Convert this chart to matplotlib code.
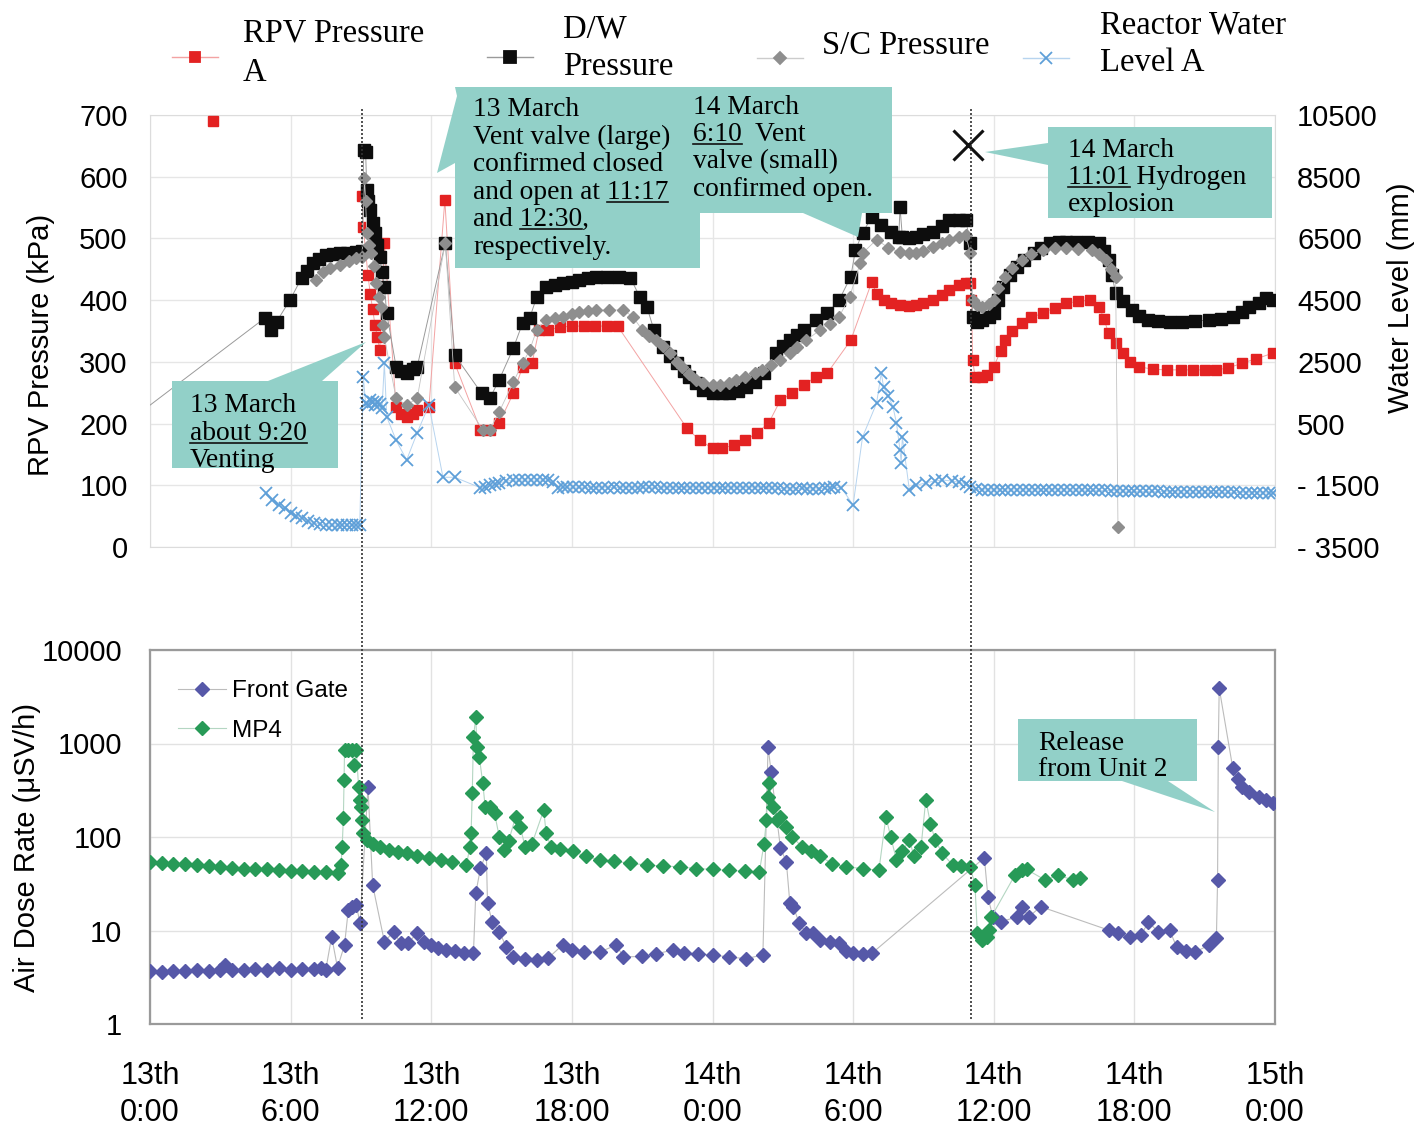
import numpy as np
import matplotlib
matplotlib.use("Agg")
import matplotlib.pyplot as plt
from matplotlib.lines import Line2D
from matplotlib.patches import Polygon
from matplotlib.transforms import blended_transform_factory

W, H = 1416, 1130
SERIF = ["Liberation Serif", "DejaVu Serif"]
SANS = ["Liberation Sans Narrow", "Liberation Sans", "DejaVu Sans"]
TEAL = "#92d0c8"

# hours after 13 March 0:00
VENT_HOUR = 9.05
EXPLOSION_HOUR = 35.02

# (hour, kPa)
rpv_pressure = [
    (2.7, 690), (5.0, np.nan),
    (9.05, 569), (9.1, 519), (9.2, 480), (9.3, 440), (9.4, 410), (9.5, 385),
    (9.6, 360), (9.7, 340), (9.8, 319), (10.0, 493), (10.5, 227), (10.7, 215),
    (10.95, 211), (11.2, 215), (11.4, 222), (11.9, 227), (12.58, 562), (13.0, 298),
    (14.1, 190), (14.5, 190), (14.9, 201), (15.5, 249), (15.9, 292), (16.3, 298),
    (16.6, 352), (17.0, 352), (17.5, 356), (18.0, 358), (18.5, 358), (19.0, 358),
    (19.5, 358), (19.95, 358), (22.9, 193), (23.45, 173), (24.0, 160), (24.4, 160),
    (24.9, 165), (25.4, 173), (25.9, 185), (26.4, 201), (26.9, 238), (27.4, 249),
    (27.9, 262), (28.4, 276), (28.9, 282), (29.9, 335), (30.8, 430), (31.0, 410),
    (31.3, 400), (31.6, 395), (32.0, 392), (32.4, 390), (32.7, 392), (33.0, 395),
    (33.4, 400), (33.8, 408), (34.1, 417), (34.5, 424), (34.8, 428), (35.0, 428),
    (35.05, 400), (35.1, 303), (35.2, 276), (35.5, 276), (35.7, 278), (36.0, 292),
    (36.3, 318), (36.5, 335), (36.8, 350), (37.2, 363), (37.6, 372), (38.1, 379),
    (38.6, 388), (39.1, 395), (39.6, 398), (40.1, 400), (40.5, 389), (40.7, 370),
    (40.9, 346), (41.2, 330), (41.5, 314), (41.8, 300), (42.2, 292), (42.8, 288),
    (43.4, 287), (44.0, 287), (44.5, 287), (45.0, 287), (45.5, 287), (46.0, 290),
    (46.6, 298), (47.2, 305), (47.9, 314),
]

dw_pressure = [
    (-1.0, 201), (4.9, 371), (5.15, 352), (5.4, 365), (5.97, 400), (6.47, 436),
    (6.7, 448), (6.97, 460), (7.2, 466), (7.5, 473), (7.8, 475), (8.1, 476),
    (8.4, 477), (8.8, 478), (9.05, 480), (9.12, 643), (9.2, 640), (9.25, 579),
    (9.3, 560), (9.4, 546), (9.5, 525), (9.6, 509), (9.7, 490), (9.8, 470),
    (9.9, 445), (10.0, 421), (10.1, 379), (10.5, 292), (10.7, 285), (10.95, 282),
    (11.2, 288), (11.4, 292), (12.6, 493), (13.0, 311), (14.15, 249), (14.5, 241),
    (14.9, 271), (15.5, 322), (15.9, 363), (16.2, 371), (16.5, 405), (16.9, 421),
    (17.3, 425), (17.6, 428), (18.0, 430), (18.3, 433), (18.7, 436), (19.05, 438),
    (19.5, 438), (20.0, 438), (20.5, 436), (20.9, 405), (21.2, 389), (21.5, 352),
    (21.9, 324), (22.2, 310), (22.5, 298), (22.8, 285), (23.0, 276), (23.3, 265),
    (23.6, 254), (24.0, 249), (24.4, 249), (24.7, 249), (25.1, 253), (25.45, 259),
    (25.8, 268), (26.2, 282), (26.7, 314), (27.0, 325), (27.3, 335), (27.6, 344),
    (27.9, 352), (28.4, 368), (28.9, 379), (29.4, 400), (29.9, 438), (30.1, 481),
    (30.4, 509), (30.8, 535), (31.2, 522), (31.6, 510), (31.95, 503), (32.0, 551),
    (32.1, 503), (32.4, 500), (32.7, 503), (33.0, 507), (33.4, 511), (33.8, 520),
    (34.1, 530), (34.5, 530), (34.8, 530), (35.0, 493), (35.1, 373), (35.3, 365),
    (35.5, 368), (35.8, 372), (36.0, 379), (36.2, 400), (36.4, 421), (36.7, 440),
    (37.0, 454), (37.3, 465), (37.7, 476), (38.0, 485), (38.4, 493), (38.8, 494),
    (39.1, 494), (39.5, 494), (40.0, 494), (40.5, 493), (40.7, 480), (40.9, 465),
    (41.05, 440), (41.2, 411), (41.5, 398), (41.9, 384), (42.2, 375), (42.6, 368),
    (43.0, 366), (43.5, 365), (44.05, 365), (44.6, 366), (45.2, 368), (45.7, 370),
    (46.2, 373), (46.6, 380), (46.9, 389), (47.3, 395), (47.6, 403), (47.9, 400),
]

sc_pressure = [
    (7.1, 433), (7.4, 445), (7.7, 452), (8.1, 457), (8.5, 463), (8.8, 468),
    (9.05, 470), (9.15, 598), (9.2, 560), (9.25, 509), (9.35, 490), (9.45, 476),
    (9.55, 455), (9.65, 428), (9.75, 405), (9.85, 389), (9.95, 360), (10.0, 340),
    (10.5, 241), (10.95, 230), (11.4, 241), (12.6, 493), (13.0, 259), (14.2, 190),
    (14.5, 190), (14.9, 219), (15.5, 267), (15.9, 298), (16.2, 319), (16.5, 352),
    (16.9, 368), (17.3, 371), (17.6, 373), (18.0, 377), (18.3, 381), (18.7, 383),
    (19.05, 384), (19.6, 384), (20.2, 384), (20.6, 373), (21.0, 352), (21.3, 342),
    (21.6, 335), (21.9, 325), (22.2, 314), (22.5, 300), (22.7, 292), (23.0, 281),
    (23.3, 271), (23.6, 265), (24.0, 262), (24.3, 263), (24.7, 265), (25.0, 270),
    (25.4, 276), (25.8, 282), (26.1, 287), (26.5, 295), (26.9, 303), (27.3, 315),
    (27.6, 324), (28.0, 335), (28.6, 352), (29.0, 362), (29.4, 373), (29.85, 405),
    (30.3, 460), (30.4, 476), (31.0, 498), (31.5, 485), (32.0, 478), (32.4, 476),
    (32.7, 476), (33.0, 480), (33.4, 486), (33.8, 492), (34.1, 498), (34.5, 503),
    (34.8, 506), (35.0, 476), (35.1, 400), (35.3, 392), (35.5, 389), (35.8, 394),
    (36.0, 400), (36.2, 420), (36.5, 438), (36.8, 452), (37.2, 465), (37.6, 474),
    (38.1, 481), (38.6, 484), (39.1, 484), (39.6, 483), (40.2, 481), (40.5, 475),
    (40.8, 465), (41.0, 450), (41.2, 438), (41.3, 32),
]

# (hour, mm)
water_level = [
    (4.97, -1750), (5.2, -1980), (5.5, -2140), (5.75, -2250), (6.0, -2400),
    (6.25, -2480), (6.5, -2560), (6.75, -2650), (7.0, -2720), (7.25, -2760),
    (7.5, -2790), (7.75, -2790), (8.0, -2790), (8.2, -2790), (8.4, -2790),
    (8.6, -2790), (8.8, -2790), (8.95, -2790), (9.1, 2020), (9.2, 1160),
    (9.3, 1100), (9.4, 1250), (9.5, 1200), (9.6, 1100), (9.7, 1200), (9.8, 1150),
    (9.9, 1000), (10.0, 2460), (10.1, 720), (10.5, -40), (10.95, -680), (11.4, 200),
    (11.9, 1100), (12.5, -1240), (13.0, -1240), (14.1, -1580), (14.3, -1560),
    (14.5, -1500), (14.7, -1460), (14.9, -1420), (15.2, -1370), (15.5, -1330),
    (15.75, -1330), (16.0, -1330), (16.25, -1330), (16.5, -1330), (16.75, -1330),
    (17.0, -1330), (17.2, -1400), (17.4, -1580), (17.6, -1570), (17.8, -1560),
    (18.05, -1560), (18.3, -1560), (18.55, -1570), (18.8, -1580), (19.05, -1580),
    (19.3, -1580), (19.55, -1575), (19.8, -1570), (20.05, -1575), (20.3, -1580),
    (20.55, -1580), (20.8, -1580), (21.05, -1570), (21.3, -1560), (21.55, -1570),
    (21.8, -1580), (22.05, -1580), (22.3, -1580), (22.55, -1580), (22.8, -1580),
    (23.05, -1580), (23.3, -1580), (23.55, -1580), (23.8, -1580), (24.05, -1580),
    (24.3, -1580), (24.55, -1580), (24.8, -1580), (25.05, -1580), (25.3, -1580),
    (25.55, -1580), (25.8, -1580), (26.05, -1580), (26.3, -1580), (26.55, -1590),
    (26.8, -1600), (27.05, -1610), (27.3, -1620), (27.55, -1610), (27.8, -1600),
    (28.05, -1610), (28.3, -1620), (28.55, -1610), (28.8, -1600), (29.0, -1580),
    (29.2, -1560), (29.5, -1580), (30.0, -2140), (30.4, 60), (31.0, 1160),
    (31.2, 2140), (31.3, 1680), (31.5, 1400), (31.7, 1040), (31.85, 520),
    (32.0, -360), (32.05, -780), (32.1, 60), (32.4, -1650), (32.7, -1500),
    (33.1, -1420), (33.5, -1360), (33.8, -1330), (34.2, -1360), (34.5, -1400),
    (34.8, -1450), (35.0, -1560), (35.25, -1620), (35.5, -1650), (35.75, -1650),
    (36.0, -1650), (36.25, -1650), (36.5, -1650), (36.75, -1650), (37.0, -1650),
    (37.25, -1650), (37.5, -1650), (37.75, -1650), (38.0, -1650), (38.25, -1650),
    (38.5, -1650), (38.75, -1650), (39.0, -1650), (39.25, -1652), (39.5, -1655),
    (39.75, -1658), (40.0, -1660), (40.25, -1662), (40.5, -1665), (40.75, -1668),
    (41.0, -1670), (41.25, -1680), (41.5, -1690), (41.75, -1695), (42.0, -1700),
    (42.25, -1700), (42.5, -1700), (42.75, -1700), (43.0, -1700), (43.25, -1705),
    (43.5, -1710), (43.75, -1715), (44.0, -1720), (44.25, -1720), (44.5, -1720),
    (44.75, -1720), (45.0, -1720), (45.25, -1722), (45.5, -1725), (45.75, -1728),
    (46.0, -1730), (46.25, -1732), (46.5, -1735), (46.75, -1738), (47.0, -1740),
    (47.25, -1742), (47.5, -1745), (47.75, -1748), (47.9, -1750),
]

# (hour, uSv/h)
front_gate = [
    (0.0, 3.7), (0.5, 3.6), (1.0, 3.7), (1.5, 3.7), (2.0, 3.8), (2.5, 3.7),
    (3.0, 3.8), (3.2, 4.3), (3.5, 3.8), (4.0, 3.8), (4.5, 3.9), (5.0, 3.8),
    (5.5, 4.0), (6.0, 3.8), (6.5, 3.9), (7.0, 3.9), (7.3, 4.0), (7.5, 3.8),
    (7.75, 8.6), (8.0, 4.0), (8.3, 7.0), (8.46, 16.6), (8.6, 18.0), (8.8, 18.8),
    (8.96, 12.0), (9.3, 345), (9.5, 30.7), (10.0, 7.6), (10.4, 9.7), (10.7, 7.3),
    (11.0, 7.3), (11.4, 9.4), (11.7, 7.5), (12.0, 7.0), (12.3, 6.5), (12.65, 6.2),
    (13.0, 6.0), (13.4, 5.8), (13.8, 5.7), (13.9, 25), (14.1, 46.5), (14.35, 67),
    (14.4, 19.7), (14.6, 12.4), (14.9, 9.7), (15.2, 6.7), (15.5, 5.25), (16.0, 4.9),
    (16.5, 4.8), (17.0, 5.1), (17.6, 7.0), (18.0, 6.2), (18.5, 5.9), (19.2, 5.9),
    (19.9, 7.0), (20.2, 5.2), (21.0, 5.3), (21.6, 5.6), (22.3, 6.2), (22.8, 5.8),
    (23.4, 5.6), (24.0, 5.5), (24.7, 5.2), (25.45, 5.0), (26.15, 5.5), (26.37, 925),
    (26.5, 500), (26.9, 76), (27.15, 54.5), (27.3, 19.7), (27.45, 17.9), (27.7, 12.0),
    (28.0, 9.4), (28.3, 9.4), (28.6, 7.9), (29.0, 7.6), (29.4, 7.3), (29.7, 6.0),
    (30.0, 5.7), (30.4, 5.6), (30.8, 5.7), (35.6, 60), (35.75, 23), (35.96, 14),
    (36.3, 12.4), (37.0, 14), (37.2, 18), (37.5, 14), (38.0, 18), (40.9, 10.1),
    (41.3, 9.4), (41.8, 8.5), (42.3, 9.0), (42.6, 12.4), (43.0, 9.7), (43.5, 10.1),
    (43.8, 6.7), (44.2, 6.0), (44.6, 5.9), (45.2, 7.0), (45.5, 8.3), (45.55, 35),
    (45.58, 925), (45.62, 3900), (46.2, 543), (46.4, 420), (46.6, 345), (46.9, 300),
    (47.3, 270), (47.6, 250), (47.9, 230),
]

mp4 = [
    (0.0, 54.5), (0.5, 53), (1.0, 52), (1.5, 51), (2.0, 50), (2.5, 49), (3.0, 48),
    (3.5, 47), (4.0, 46), (4.5, 45.5), (5.0, 45), (5.5, 44), (6.0, 43.5), (6.5, 43),
    (7.0, 42.5), (7.5, 42), (8.0, 41), (8.15, 50), (8.2, 79), (8.25, 158), (8.28, 407),
    (8.3, 850), (8.45, 860), (8.6, 850), (8.7, 590), (8.8, 850), (8.9, 345),
    (8.95, 250), (9.0, 210), (9.05, 152), (9.1, 110), (9.25, 93), (9.5, 85),
    (9.8, 79), (10.2, 73), (10.6, 69), (10.95, 67), (11.4, 63), (11.9, 60),
    (12.4, 57), (12.9, 54), (13.5, 50), (13.65, 79), (13.7, 110), (13.75, 295),
    (13.8, 1170), (13.9, 1900), (13.95, 925), (14.05, 720), (14.2, 375), (14.3, 210),
    (14.5, 210), (14.7, 180), (14.9, 101), (15.1, 72), (15.3, 90), (15.6, 165),
    (15.8, 129), (16.0, 79), (16.3, 85), (16.8, 194), (16.9, 110), (17.1, 79),
    (17.5, 75), (18.05, 70), (18.6, 62), (19.2, 57), (19.8, 55), (20.5, 52.5),
    (21.2, 50), (21.9, 49), (22.6, 48), (23.3, 46), (24.0, 45), (24.7, 44),
    (25.4, 43), (26.0, 42.5), (26.2, 85), (26.3, 152), (26.35, 270), (26.4, 375),
    (26.6, 210), (26.75, 152), (26.9, 165), (27.15, 129), (27.4, 101), (27.8, 79),
    (28.2, 70), (28.6, 62), (29.1, 52), (29.7, 48), (30.4, 46), (31.1, 44),
    (31.4, 165), (31.6, 101), (31.85, 57), (32.1, 70), (32.4, 93), (32.6, 62),
    (32.9, 79), (33.1, 250), (33.3, 139), (33.5, 93), (33.8, 67), (34.25, 50),
    (34.6, 49), (35.0, 48), (35.2, 30.6), (35.3, 9.4), (35.5, 7.9), (35.7, 8.5),
    (35.8, 10.1), (35.9, 14), (36.9, 39), (37.2, 44), (37.4, 45), (38.2, 34.6),
    (38.75, 39), (39.4, 34.6), (39.7, 36.5),
]

x_ticks = [0, 6, 12, 18, 24, 30, 36, 42, 48]
x_tick_labels = ["13th\n0:00", "13th\n6:00", "13th\n12:00", "13th\n18:00", "14th\n0:00",
                 "14th\n6:00", "14th\n12:00", "14th\n18:00", "15th\n0:00"]
kpa_ticks = [0, 100, 200, 300, 400, 500, 600, 700]
wl_ticks = [-3500, -1500, 500, 2500, 4500, 6500, 8500, 10500]
wl_tick_labels = ["- 3500", "- 1500", "500", "2500", "4500", "6500", "8500", "10500"]
dose_ticks = [1, 10, 100, 1000, 10000]


def unzip(pairs):
    return [p[0] for p in pairs], [p[1] for p in pairs]


def fx(x):
    return x / W


def fy(y):
    return 1 - y / H


plt.rcParams["font.family"] = SANS

fig = plt.figure(figsize=(W / 100, H / 100), dpi=100)
fig.patch.set_facecolor("white")

# ---- top panel: pressures and water level ----
ax1 = fig.add_axes([fx(150), fy(547), 1125 / W, 432 / H])
ax1.set_xlim(0, 48)
ax1.set_ylim(0, 700)
ax1.set_yticks(kpa_ticks)
ax1.set_xticks(x_ticks)
ax1.set_xticklabels([])
ax1.tick_params(axis="both", length=0, labelsize=21, pad=16)
ax1.grid(True, color="#e6e6e6", lw=1)
for s in ax1.spines.values():
    s.set_color("#dcdcdc")

h, v = unzip(rpv_pressure)
ax1.plot(h, v, color="#f3a3a3", lw=0.7, marker="s", ms=7.5, mfc="#e32222", mec="#e32222", zorder=3)
h, v = unzip(dw_pressure)
ax1.plot(h, v, color="#9a9a9a", lw=0.7, marker="s", ms=8.5, mfc="#0d0d0d", mec="#0d0d0d", zorder=4)
h, v = unzip(sc_pressure)
ax1.plot(h, v, color="#c4c4c4", lw=0.6, marker="D", ms=6.5, mfc="#8e8e8e", mec="#8e8e8e", zorder=5)
ax1.plot([EXPLOSION_HOUR - 0.14], [651], ls="none", marker="x", ms=22, mew=2.2, color="#111111", zorder=6)

ax1r = ax1.twinx()
ax1r.set_ylim(-3500, 10500)
ax1r.set_yticks(wl_ticks)
ax1r.set_yticklabels(wl_tick_labels)
ax1r.tick_params(axis="y", length=0, labelsize=21, pad=16)
for s in ax1r.spines.values():
    s.set_visible(False)
h, v = unzip(water_level)
ax1r.plot(h, v, color="#b7d4ef", lw=0.7, marker="x", ms=8, mew=1.3, mec="#5e9fd8", ls="-", zorder=3)

# ---- bottom panel: air dose rate ----
ax2 = fig.add_axes([fx(150), fy(1024), 1125 / W, 374 / H])
ax2.set_yscale("log")
ax2.set_xlim(0, 48)
ax2.set_ylim(1, 10000)
ax2.set_yticks(dose_ticks)
ax2.set_yticklabels([str(t) for t in dose_ticks])
ax2.yaxis.set_minor_locator(matplotlib.ticker.NullLocator())
ax2.set_xticks(x_ticks)
ax2.set_xticklabels(x_tick_labels)
ax2.tick_params(axis="y", length=0, labelsize=21, pad=20)
ax2.tick_params(axis="x", length=0, labelsize=22, pad=27)
for lbl in ax2.get_xticklabels():
    lbl.set_linespacing(1.3)
ax2.grid(True, color="#e2e2e2", lw=1)
for s in ax2.spines.values():
    s.set_color("#9a9a9a")
    s.set_linewidth(1.6)

h, v = unzip(front_gate)
ax2.plot(h, v, color="#bcbcbc", lw=0.8, marker="D", ms=7, mfc="#5658a8", mec="#5658a8", label="Front Gate", zorder=3)
h, v = unzip(mp4)
ax2.plot(h, v, color="#b4d6c2", lw=0.8, marker="D", ms=7, mfc="#279a57", mec="#279a57", label="MP4", zorder=4)
ax2.legend(loc="upper left", bbox_to_anchor=(0.016, 0.945), frameon=False, fontsize=17.5,
           handlelength=2.0, handletextpad=0.25, labelspacing=0.72, borderaxespad=0)

# ---- vertical dotted event lines across both panels ----
blend = blended_transform_factory(ax2.transData, fig.transFigure)
for hr in (VENT_HOUR, EXPLOSION_HOUR):
    fig.add_artist(Line2D([hr, hr], [fy(109), fy(1020)], transform=blend, color="#333333",
                          lw=1.2, ls=(0, (1.2, 1.2)), zorder=7))

# ---- axis titles ----
fig.text(fx(41), fy(345), "RPV Pressure (kPa)", rotation=90, ha="center", va="center", fontsize=21)
fig.text(fx(1401), fy(298), "Water Level (mm)", rotation=90, ha="center", va="center", fontsize=21)
fig.text(fx(27), fy(848), "Air Dose Rate (μSV/h)", rotation=90, ha="center", va="center", fontsize=21)

# ---- top legend ----
legend_entries = [
    (195, 57, "s", 7.5, "#e32222", "#f3a3a3", 243, [(41, "RPV Pressure"), (81, "A")]),
    (510, 57, "s", 8.5, "#0d0d0d", "#9a9a9a", 563, [(37, "D/W"), (75, "Pressure")]),
    (780, 58, "D", 6.5, "#8e8e8e", "#cccccc", 822, [(54, "S/C Pressure")]),
    (1046, 58, "x", 8, "#5e9fd8", "#b7d4ef", 1100, [(34, "Reactor Water"), (71, "Level A")]),
]
for mx, my, mk, ms, mc, lc, tx, lines in legend_entries:
    fig.add_artist(Line2D([fx(mx - 23), fx(mx + 23)], [fy(my), fy(my)], transform=fig.transFigure,
                          color=lc, lw=1))
    fig.add_artist(Line2D([fx(mx)], [fy(my)], transform=fig.transFigure, ls="none", marker=mk,
                          ms=ms, mfc=mc, mec=mc, mew=1.3))
    for ty, txt in lines:
        fig.text(fx(tx), fy(ty), txt, fontsize=23.5, family=SERIF, va="baseline", ha="left")

# ---- callout boxes ----
renderer = fig.canvas.get_renderer()


def text_width(s, size):
    t = fig.text(0, 0, s, fontsize=size, family=SERIF)
    w = t.get_window_extent(renderer).width
    t.remove()
    return w


def callout(points, x0, y0, step, lines, size=19.8):
    fig.add_artist(Polygon([(fx(x), fy(y)) for x, y in points], closed=True,
                           transform=fig.transFigure, facecolor=TEAL, edgecolor="none", zorder=8))
    for i, (line, ul) in enumerate(lines):
        yb = y0 + i * step
        fig.text(fx(x0), fy(yb), line, fontsize=size, family=SERIF, va="baseline", ha="left", zorder=9)
        if ul:
            start = line.index(ul)
            end_w = text_width(line[:start + len(ul)], size)
            u_w = text_width(ul, size)
            fig.add_artist(Line2D([fx(x0 + end_w - u_w), fx(x0 + end_w)], [fy(yb + 3), fy(yb + 3)],
                                  transform=fig.transFigure, color="#111111", lw=1.2, zorder=9))


callout([(455, 87), (892, 87), (892, 213), (862, 213), (858, 237), (803, 213), (700, 213),
         (700, 268), (455, 268), (455, 163), (437, 173), (457, 96)],
        473, 116, 27.6,
        [("13 March", None), ("Vent valve (large)", None), ("confirmed closed", None),
         ("and open at 11:17", "11:17"), ("and 12:30,", "12:30"), ("respectively.", None)])
callout([(683, 87), (684, 88), (683, 88)], 693, 114, 27.3,
        [("14 March", None), ("6:10  Vent", "6:10"), ("valve (small)", None),
         ("confirmed open.", None)])
callout([(1048, 127), (1272, 127), (1272, 218), (1048, 218), (1048, 165), (985, 152), (1048, 143)],
        1068, 157, 27,
        [("14 March", None), ("11:01 Hydrogen", "11:01"), ("explosion", None)])
callout([(172, 381), (268, 381), (366, 342), (322, 381), (338, 381), (338, 468), (172, 468)],
        190, 412, 27.5,
        [("13 March", None), ("about 9:20", "about 9:20"), ("Venting", None)])
callout([(1018, 719), (1197, 719), (1197, 781), (1168, 781), (1215, 812), (1122, 781), (1018, 781)],
        1038, 750, 26,
        [("Release", None), ("from Unit 2", None)])

fig.savefig("out.png", dpi=100, facecolor="white")
